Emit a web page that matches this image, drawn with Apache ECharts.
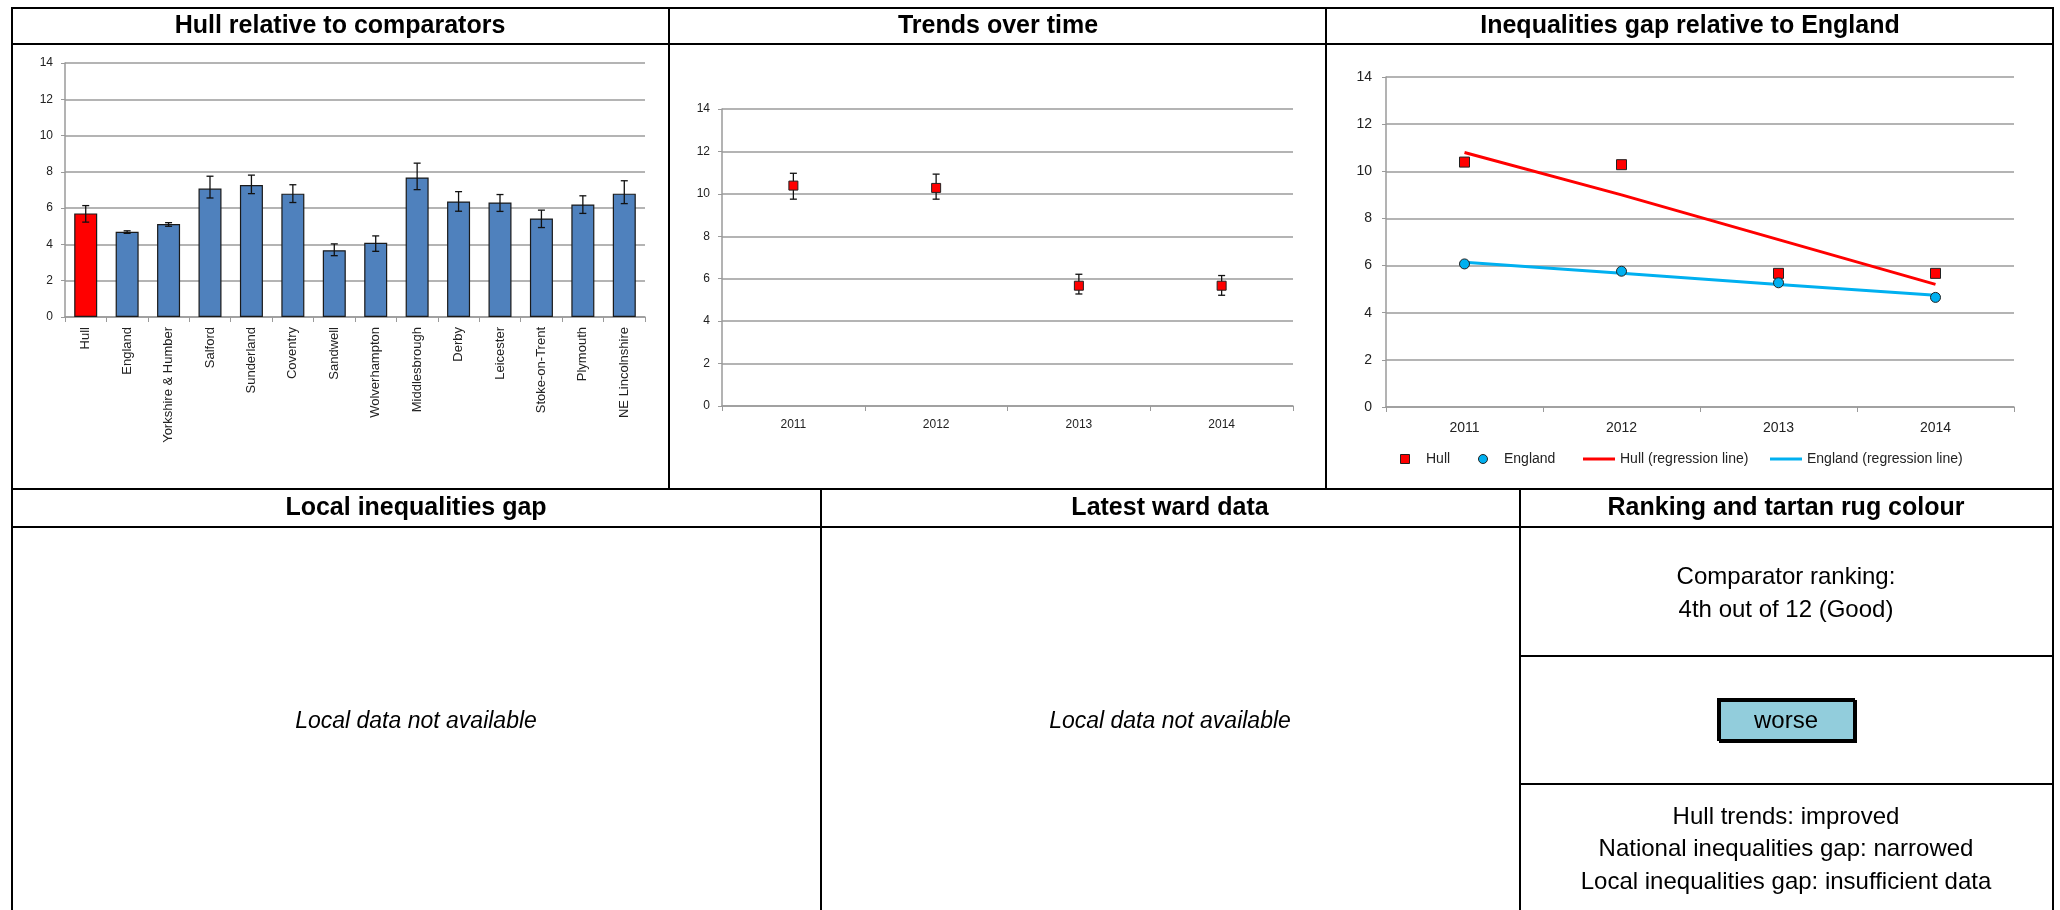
<!DOCTYPE html>
<html><head><meta charset="utf-8">
<script src="https://cdn.jsdelivr.net/npm/echarts@6/dist/echarts.min.js"></script>
<style>html,body{margin:0;padding:0;background:#fff}#c{width:2060px;height:910px}</style>
</head><body><div id="c"></div><script>
// ---- data ----
const comparators = ['Hull','England','Yorkshire & Humber','Salford','Sunderland','Coventry','Sandwell','Wolverhampton','Middlesbrough','Derby','Leicester','Stoke-on-Trent','Plymouth','NE Lincolnshire'];
const compValues = [5.71,4.70,5.12,7.08,7.27,6.80,3.68,4.09,7.69,6.37,6.31,5.43,6.20,6.80];
const compLower  = [5.23,4.61,5.00,6.56,6.80,6.31,3.38,3.62,7.02,5.83,5.82,4.93,5.71,6.25];
const compUpper  = [6.14,4.75,5.20,7.76,7.82,7.29,4.03,4.47,8.48,6.91,6.75,5.89,6.68,7.51];
const years = ['2011','2012','2013','2014'];
const hullValues = [10.39,10.28,5.67,5.67];
const hullLower  = [9.75,9.75,5.28,5.22];
const hullUpper  = [10.97,10.93,6.21,6.15];
const englandValues = [6.07,5.76,5.27,4.65];
const hullRegression = [10.8,9.0,7.1,5.2];
const englandRegression = [6.14,5.67,5.2,4.74];
const yMin = 0, yMax = 14, yStep = 2;

const titles = ['Hull relative to comparators','Trends over time','Inequalities gap relative to England','Local inequalities gap','Latest ward data','Ranking and tartan rug colour'];
const noDataText = 'Local data not available';
const rankingLines = ['Comparator ranking:','4th out of 12 (Good)'];
const rugText = 'worse';
const summaryLines = ['Hull trends: improved','National inequalities gap: narrowed','Local inequalities gap: insufficient data'];

// ---- styles ----
const FONT = '"Liberation Sans", Arial, sans-serif';
const GRIDC = '#b4b4b4', AXC = '#9a9a9a', TXT = '#222';

function errRender(params, api) {
  const x = api.value(0), lo = api.value(1), hi = api.value(2);
  const a = api.coord([x, lo]), b = api.coord([x, hi]);
  const hw = 3.5;
  const st = {stroke:'#111', lineWidth:1.3};
  return {type:'group', children:[
    {type:'line', shape:{x1:a[0],y1:a[1],x2:b[0],y2:b[1]}, style:st},
    {type:'line', shape:{x1:a[0]-hw,y1:a[1],x2:a[0]+hw,y2:a[1]}, style:st},
    {type:'line', shape:{x1:b[0]-hw,y1:b[1],x2:b[0]+hw,y2:b[1]}, style:st}
  ]};
}

function yAxisCfg(gi, fs, margin) {
  return {type:'value', gridIndex:gi, min:yMin, max:yMax, interval:yStep,
    axisLine:{show:true, lineStyle:{color:AXC, width:1.5}},
    axisTick:{show:true, length:4, lineStyle:{color:AXC}},
    axisLabel:{fontFamily:FONT, fontSize:fs, color:TXT, margin:margin},
    splitLine:{show:true, lineStyle:{color:GRIDC, width:2}}};
}
function xAxisCfg(gi, cats, fs, margin, rotate) {
  return {type:'category', gridIndex:gi, data:cats, boundaryGap:true,
    axisLine:{show:true, lineStyle:{color:AXC, width:1.5}},
    axisTick:{show:true, length:5, lineStyle:{color:AXC}},
    axisLabel:{fontFamily:FONT, fontSize:fs, color:TXT, margin:margin, rotate:rotate||0, interval:0},
    splitLine:{show:false}};
}

// ---- layout graphics ----
const L = 12, R = 2053, T = 8, B = 910;
const gfx = [];
function hline(y,x1,x2){gfx.push({type:'line',shape:{x1:x1,y1:y,x2:x2,y2:y},style:{stroke:'#000',lineWidth:2},z:50});}
function vline(x,y1,y2){gfx.push({type:'line',shape:{x1:x,y1:y1,x2:x,y2:y2},style:{stroke:'#000',lineWidth:2},z:50});}
function text(t,x,y,font){gfx.push({type:'text',x:x,y:y,z:60,style:{text:t,font:font,fill:'#000',align:'center',textAlign:'center',verticalAlign:'middle',textVerticalAlign:'middle'}});}
hline(T,L-1,R+1); hline(44,L,R); hline(489,L,R); hline(527,L,R);
vline(L,T,B); vline(R,T,B);
vline(669,T,489); vline(1326,T,489);
vline(821,489,B); vline(1520,489,B);
hline(656,1520,R); hline(784,1520,R);
const TF = 'bold 25px ' + FONT;
text(titles[0],340,26,TF); text(titles[1],998,26,TF); text(titles[2],1690,26,TF);
text(titles[3],416,508,TF); text(titles[4],1170,508,TF); text(titles[5],1786,508,TF);
const IF = 'italic 23px ' + FONT, NF = '24px ' + FONT;
text(noDataText,416,722,IF); text(noDataText,1170,722,IF);
rankingLines.forEach((s,i)=>text(s,1786,577+i*33,NF));
summaryLines.forEach((s,i)=>text(s,1786,817+i*32.5,NF));
gfx.push({type:'rect',shape:{x:1718,y:699,width:136,height:41},z:55,
  style:{fill:'#92CDDC',stroke:'#000',lineWidth:2,shadowColor:'#000',shadowOffsetX:2,shadowOffsetY:2,shadowBlur:0}});
text(rugText,1786,721,'24px ' + FONT);

// one legend component per entry so each sits where the reference puts it
const legendItems = [
  {name:'Hull', left:1400, icon:'path://M0,0L10,0L10,10L0,10Z', itemStyle:{color:'#FF0000', borderColor:'#222', borderWidth:1}},
  {name:'England', left:1478, icon:'circle', itemStyle:{color:'#00B0F0', borderColor:'#222', borderWidth:1}},
  {name:'Hull (regression line)', left:1583, icon:'path://M0,0L32,0L32,3L0,3Z', itemStyle:{color:'#FF0000', borderWidth:0}},
  {name:'England (regression line)', left:1770, icon:'path://M0,0L32,0L32,3L0,3Z', itemStyle:{color:'#00B0F0', borderWidth:0}}
];
const legends = legendItems.map(it => ({
  left:it.left, top:447, itemWidth:32, itemHeight:9, padding:[5,0,5,0],
  textStyle:{fontFamily:FONT, fontSize:14, color:TXT},
  data:[{name:it.name, icon:it.icon, itemStyle:it.itemStyle}]
}));

const chart = echarts.init(document.getElementById('c'), null, {renderer:'canvas'});
chart.setOption({
  animation:false,
  backgroundColor:'#fff',
  grid:[
    {left:65, top:63, width:580, height:254, outerBoundsMode:'none'},
    {left:722, top:109, width:571, height:297, outerBoundsMode:'none'},
    {left:1386, top:77, width:628, height:330, outerBoundsMode:'none'}
  ],
  xAxis:[ xAxisCfg(0, comparators, 13, 10, 90), xAxisCfg(1, years, 12, 13), xAxisCfg(2, years, 14, 14) ],
  yAxis:[ yAxisCfg(0, 12, 12), yAxisCfg(1, 12, 12), yAxisCfg(2, 14, 14) ],
  legend: legends,
  graphic:{elements:gfx},
  series:[
    {type:'bar', name:'Comparators', xAxisIndex:0, yAxisIndex:0, barWidth:23,
      data: compValues.map((v,i)=>({value:v, itemStyle:{color: i===0 ? '#FF0000' : '#4F81BD'}})),
      itemStyle:{borderColor:'#1a1a1a', borderWidth:1.2}},
    {type:'custom', name:'Comparator CI', xAxisIndex:0, yAxisIndex:0, renderItem:errRender, z:5,
      encode:{x:0, y:[1,2]}, data: comparators.map((c,i)=>[i, compLower[i], compUpper[i]])},
    {type:'custom', name:'Trend CI', xAxisIndex:1, yAxisIndex:1, renderItem:errRender, z:2,
      encode:{x:0, y:[1,2]}, data: years.map((c,i)=>[i, hullLower[i], hullUpper[i]])},
    {type:'scatter', name:'Hull trend', xAxisIndex:1, yAxisIndex:1, symbol:'rect', symbolSize:9, z:5,
      itemStyle:{color:'#FF0000', borderColor:'#222', borderWidth:1, opacity:1}, data:hullValues},
    {type:'line', name:'Hull (regression line)', xAxisIndex:2, yAxisIndex:2, symbol:'none', showSymbol:false, z:3,
      lineStyle:{color:'#FF0000', width:3}, itemStyle:{color:'#FF0000'}, data:hullRegression},
    {type:'line', name:'England (regression line)', xAxisIndex:2, yAxisIndex:2, symbol:'none', showSymbol:false, z:3,
      lineStyle:{color:'#00B0F0', width:3}, itemStyle:{color:'#00B0F0'}, data:englandRegression},
    {type:'scatter', name:'Hull', xAxisIndex:2, yAxisIndex:2, symbol:'rect', symbolSize:10, z:6,
      itemStyle:{color:'#FF0000', borderColor:'#222', borderWidth:1, opacity:1}, data:hullValues},
    {type:'scatter', name:'England', xAxisIndex:2, yAxisIndex:2, symbol:'circle', symbolSize:10, z:6,
      itemStyle:{color:'#00B0F0', borderColor:'#222', borderWidth:1, opacity:1}, data:englandValues}
  ]
});
</script></body></html>
